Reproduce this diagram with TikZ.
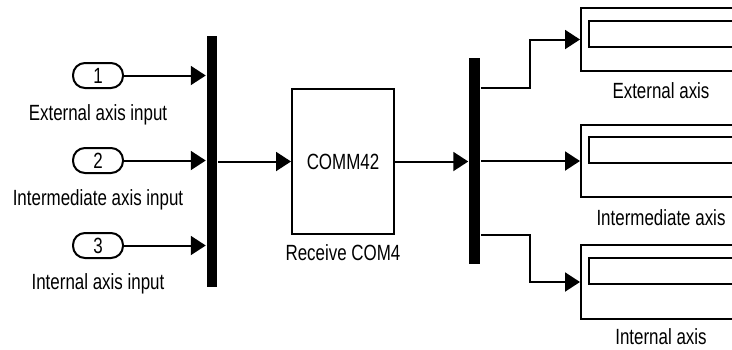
\documentclass[tikz,border=0pt]{standalone}
\usepackage{fontspec}
\setmainfont{Liberation Sans}
\usepackage{graphicx}
\usetikzlibrary{positioning, arrows.meta}
\newcommand{\narrowtxt}[1]{\scalebox{0.77}[1]{#1}}

\begin{document}
\begin{tikzpicture}[
  x=1pt, y=-1pt,
  line width=2pt,
  inport/.style={draw, rounded corners=12pt, minimum width=50pt,
    minimum height=25pt, inner sep=0pt, font=\fontsize{22}{26}\selectfont},
  bar/.style={fill=black, minimum width=10.5pt, inner sep=0pt},
  block/.style={draw, minimum width=102pt, minimum height=145pt,
    inner sep=0pt, font=\fontsize{22}{26}\selectfont},
  display/.style={draw, minimum width=160pt, inner sep=0pt, anchor=west},
  screen/.style={draw, minimum width=150pt, minimum height=26pt,
    inner sep=0pt, anchor=north west},
  blocklabel/.style={inner sep=0pt, font=\fontsize{22}{26}\selectfont},
  arrow/.style={-{Triangle[length=15pt, width=19pt]}}
]
  \useasboundingbox (0,0) rectangle (732,349);
  \clip (0,0) rectangle (732,349);

  % Inports
  \node[inport] (in1) at (98,75.5) {\narrowtxt{1}};
  \node[inport] (in2) at (98,160.5) {\narrowtxt{2}};
  \node[inport] (in3) at (98,245.5) {\narrowtxt{3}};
  \node[blocklabel, below=15pt of in1] (in1lbl) {\narrowtxt{External axis input}};
  \node[blocklabel, below=15pt of in2] (in2lbl) {\narrowtxt{Intermediate axis input}};
  \node[blocklabel, below=14pt of in3] (in3lbl) {\narrowtxt{Internal axis input}};

  % Mux, receiver, demux
  \node[bar, minimum height=251pt] (mux) at (212,161.5) {};
  \node[block] (comm) at (343,161.5) {\narrowtxt{COMM42}};
  \node[blocklabel, below=9pt of comm] (commlbl) {\narrowtxt{Receive COM4}};
  \node[bar, minimum height=206pt] (demux) at (474.5,161) {};

  % Displays
  \node[display, minimum height=63pt] (disp1) at (580,39.5) {};
  \node[display, minimum height=72pt] (disp2) at (580,161) {};
  \node[display, minimum height=74pt] (disp3) at (580,282) {};
  \node[screen] (scr1) at ([shift={(8pt,-13pt)}]disp1.north west) {};
  \node[screen] (scr2) at ([shift={(8pt,-12pt)}]disp2.north west) {};
  \node[screen] (scr3) at ([shift={(8pt,-13pt)}]disp3.north west) {};
  \node[blocklabel, below=10pt of disp1] (disp1lbl) {\narrowtxt{External axis}};
  \node[blocklabel, below=11pt of disp2] (disp2lbl) {\narrowtxt{Intermediate axis}};
  \node[blocklabel, below=8pt of disp3] (disp3lbl) {\narrowtxt{Internal axis}};

  % Signals
  \draw[arrow] (in1) -- (in1 -| mux.west);
  \draw[arrow] (in2) -- (in2 -| mux.west);
  \draw[arrow] (in3) -- (in3 -| mux.west);
  \draw[arrow] (mux) -- (comm);
  \draw[arrow] (comm.east) -- (comm.east -| demux.west);
  \draw[arrow] ([yshift=-31pt]demux.north east) -- ++(49,0) |- (disp1.west);
  \draw[arrow] (disp2.west -| demux.east) -- (disp2.west);
  \draw[arrow] ([yshift=30pt]demux.south east) -- ++(49,0) |- (disp3.west);
\end{tikzpicture}
\end{document}
